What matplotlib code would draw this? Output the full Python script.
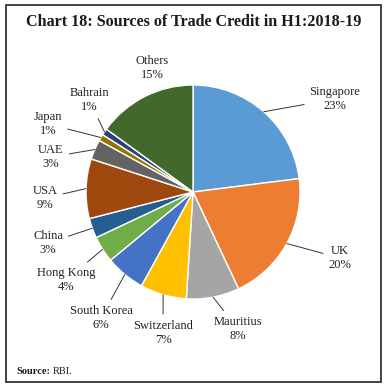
import matplotlib
matplotlib.use("Agg")
import matplotlib.pyplot as plt
import numpy as np
from matplotlib.patches import Rectangle

countries = ["Singapore", "UK", "Mauritius", "Switzerland", "South Korea", "Hong Kong",
             "China", "USA", "UAE", "Japan", "Bahrain", "Others"]
shares = [23, 20, 8, 7, 6, 4, 3, 9, 3, 1, 1, 15]
colors = ["#5B9BD5", "#ED7D31", "#A5A5A5", "#FFC000", "#4472C4", "#70AD47",
          "#255E91", "#9E480E", "#636363", "#997300", "#264478", "#43682B"]

# label positions in pixel coordinates (x, y from top)
label_pos = {
    "Singapore": (335, 99), "UK": (340, 258), "Mauritius": (238, 329),
    "Switzerland": (163, 333), "South Korea": (101, 318), "Hong Kong": (66, 280),
    "China": (48, 243), "USA": (45, 198), "UAE": (51, 157), "Japan": (48, 124),
    "Bahrain": (89, 100), "Others": (152, 68),
}
leaders = {"Singapore", "UK", "Mauritius", "Switzerland", "South Korea", "Hong Kong",
           "China", "USA", "UAE", "Japan", "Bahrain"}

W, H = 388, 389
fig = plt.figure(figsize=(W / 100, H / 100), dpi=100)
ax = fig.add_axes([0, 0, 1, 1])
ax.set_xlim(0, W)
ax.set_ylim(0, H)
ax.axis("off")

cx, cy, R = 193, H - 192, 107
wedges, _ = ax.pie(shares, colors=colors, startangle=90, counterclock=False,
                   center=(cx, cy), radius=R,
                   wedgeprops=dict(edgecolor="white", linewidth=1.0))
ax.set_xlim(0, W)
ax.set_ylim(0, H)
ax.set_aspect("auto")

font = "Liberation Serif"
fs = 9
total = sum(shares)
for w, name, v in zip(wedges, countries, shares):
    ang = np.deg2rad((w.theta1 + w.theta2) / 2)
    px, py = cx + R * np.cos(ang), cy + R * np.sin(ang)
    tx, ty = label_pos[name]
    txt = f"{name}\n{v / total * 100:.0f}%"
    if name in leaders:
        ax.annotate(txt, xy=(px, py), xytext=(tx, H - ty), ha="center", va="center",
                    fontsize=fs, family=font, color="#222222", linespacing=1.3,
                    arrowprops=dict(arrowstyle="-", color="#333333", lw=0.7,
                                    shrinkA=2, shrinkB=0))
    else:
        ax.text(tx, H - ty, txt, ha="center", va="center", fontsize=fs,
                family=font, color="#222222", linespacing=1.3)

fig.text(0.5, 1 - 22 / H, "Chart 18: Sources of Trade Credit in H1:2018-19",
         ha="center", va="center", fontsize=11.6, fontweight="bold", family=font,
         color="#1a1a1a")
src = fig.text(16 / W, 1 - 372 / H, "Source:", ha="left", va="center", fontsize=7.5,
               fontweight="bold", family=font, color="#1a1a1a")
fig.canvas.draw()
bb = src.get_window_extent()
fig.text((bb.x1 + 3) / W, 1 - 372 / H, "RBI.", ha="left", va="center", fontsize=7.5,
         family=font, color="#1a1a1a")

fig.patches.append(Rectangle((6 / W, 1 - 382 / H), 375 / W, 377 / H,
                             transform=fig.transFigure, fill=False,
                             edgecolor="#222222", linewidth=1.2))

fig.savefig("out.png", dpi=100)
